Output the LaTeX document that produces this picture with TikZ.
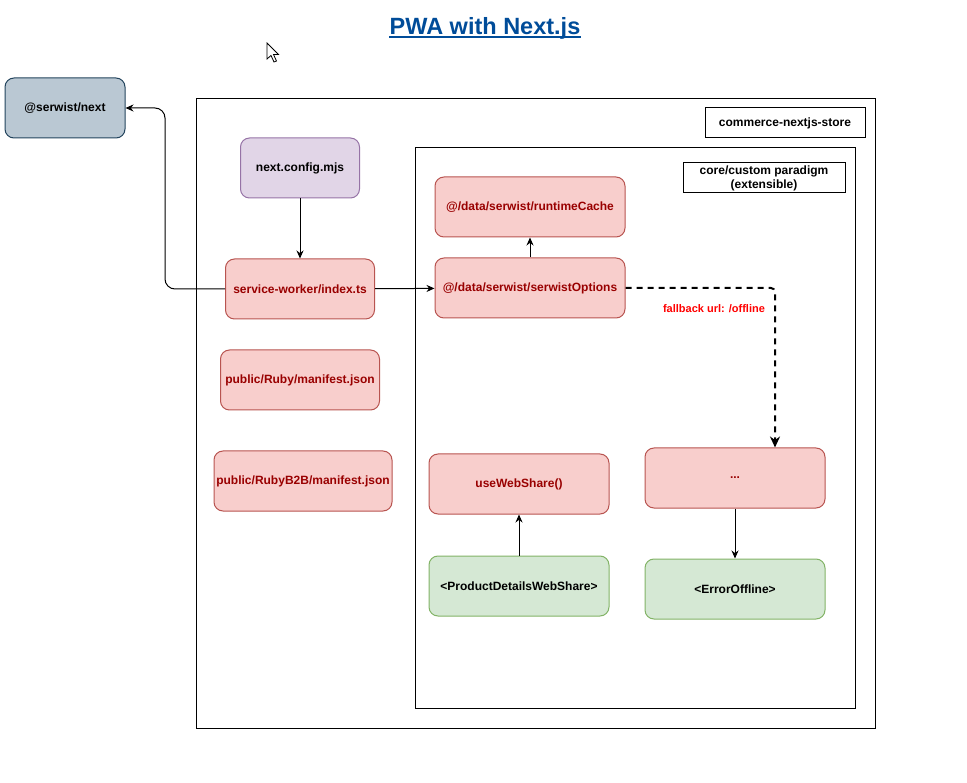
\documentclass[tikz,border=0pt]{standalone}
\usepackage{fontspec}
\setmainfont{Liberation Sans}
\usepackage{tikz}
\usetikzlibrary{positioning,arrows.meta}
\definecolor{titleblue}{HTML}{004C99}
\definecolor{redfill}{HTML}{F8CECC}
\definecolor{redline}{HTML}{B85450}
\definecolor{redtext}{HTML}{990000}
\definecolor{greenfill}{HTML}{D5E8D4}
\definecolor{greenline}{HTML}{82B366}
\definecolor{purplefill}{HTML}{E1D5E7}
\definecolor{purpleline}{HTML}{9673A6}
\definecolor{bluefill}{HTML}{BAC8D3}
\definecolor{blueline}{HTML}{23445D}

\begin{document}
\begin{tikzpicture}[x=1pt, y=-1pt,
    font=\fontsize{12}{14}\selectfont\bfseries,
    basebox/.style={rectangle, rounded corners=9pt, line width=1pt, minimum height=60pt, inner sep=0pt},
    redbox/.style={basebox, draw=redline, fill=redfill, text=redtext},
    greenbox/.style={basebox, draw=greenline, fill=greenfill},
    purplebox/.style={basebox, draw=purpleline, fill=purplefill},
    bluebox/.style={basebox, draw=blueline, fill=bluefill},
    container/.style={rectangle, draw=black, line width=1pt, inner sep=0pt},
    labelbox/.style={rectangle, draw=black, line width=1pt, minimum height=30pt, inner sep=0pt, align=center},
    arrow/.style={-{Stealth[length=8pt, width=7pt]}, line width=1pt},
    dasharrow/.style={-{Stealth[length=11pt, width=10pt]}, line width=2pt, dash pattern=on 6pt off 5pt},
    ]
    \useasboundingbox (0,0) rectangle (967,783);

    %Title
    \node[text=titleblue, inner sep=0pt, font=\fontsize{23.5}{28}\selectfont\bfseries] (title) at (485,28) {PWA with Next.js};
    \draw[titleblue, line width=1.6pt] ([yshift=-3pt]title.base west) -- ([yshift=-3pt]title.base east);

    %Cursor
    \draw[fill=white, line width=0.8pt, line join=miter] (267,43) -- (267,59) -- (271,55.5) -- (274,62) -- (276.5,61) -- (273.5,54.5) -- (278.5,54.5) -- cycle;

    %Containers
    \node[container, minimum width=679pt, minimum height=629pt] (store) at (535.5,413.5) {};
    \node[labelbox, minimum width=160pt] (storelabel) at (785,123) {commerce-nextjs-store};
    \node[container, minimum width=440pt, minimum height=560pt] (core) at (635,428) {};
    \node[labelbox, minimum width=162pt] (corelabel) at (764,178) {core/custom paradigm\\(extensible)};

    %Nodes
    \node[bluebox, minimum width=120pt]   (serwistnext)  at (65,108)                 {@serwist/next};
    \node[purplebox, minimum width=119pt] (nextconfig)   at (300,168)                {next.config.mjs};
    \node[redbox, minimum width=149pt]    (swindex)      [below=60pt of nextconfig]  {service-worker/index.ts};
    \node[redbox, minimum width=159pt]    (rubymanifest) [below=30pt of swindex]     {public/Ruby/manifest.json};
    \node[redbox, minimum width=178pt]    (b2bmanifest)  [below=40pt of rubymanifest, xshift=3pt] {public/RubyB2B/manifest.json};
    \node[redbox, minimum width=190pt]    (swoptions)    at (530,288)                {@/data/serwist/serwistOptions};
    \node[redbox, minimum width=190pt]    (runtimecache) [above=20pt of swoptions]   {@/data/serwist/runtimeCache};
    \node[redbox, minimum width=180pt]    (usewebshare)  at (519,484)                {useWebShare()};
    \node[greenbox, minimum width=180pt]  (productshare) [below=41pt of usewebshare] {<ProductDetailsWebShare>};
    \node[redbox, minimum width=180pt]    (dots)         at (735,478)                {...};
    \node[greenbox, minimum width=180pt]  (erroroffline) [below=50pt of dots]        {<ErrorOffline>};
    \node[text=red, font=\fontsize{11}{13}\selectfont\bfseries] (fallback) at (714,309) {fallback url: /offline};

    %Lines
    \draw[arrow] (nextconfig) -- (swindex);
    \draw[arrow, rounded corners=10pt] (swindex.west) -- ++(-60,0) |- (serwistnext.east);
    \draw[arrow] (swindex) -- (swoptions);
    \draw[arrow] (swoptions) -- (runtimecache);
    \draw[dasharrow, rounded corners=4pt] (swoptions.east) -| ([xshift=40pt]dots.north);
    \draw[arrow] (productshare) -- (usewebshare);
    \draw[arrow] (dots) -- (erroroffline);
\end{tikzpicture}
\end{document}
